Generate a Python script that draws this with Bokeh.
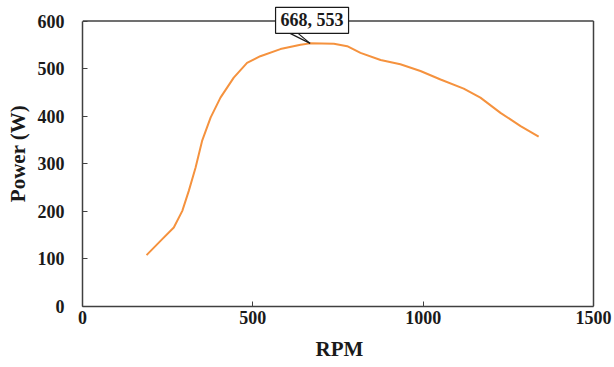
from bokeh.plotting import figure
from bokeh.models import Range1d, FixedTicker, Label
from bokeh.embed import file_html
from bokeh.resources import INLINE

rpm = [188, 229, 268, 293, 312, 332, 351, 376, 405, 444, 483, 522, 581, 640,
       668, 738, 777, 816, 875, 933, 992, 1051, 1119, 1168, 1227, 1286, 1339]
power = [108, 138, 166, 201, 243, 292, 348, 397, 439, 481, 512, 526, 541, 550,
         553, 552, 547, 533, 518, 509, 495, 477, 458, 439, 407, 379, 357]
peak_rpm = 668
peak_power = 553
x_ticks = [0, 500, 1000, 1500]
y_ticks = [0, 100, 200, 300, 400, 500, 600]

FONT = "Liberation Serif"

W, H = 614, 367
LEFT, RIGHT, TOP, BOTTOM = 82, 18, 0, 61
plot_w_px = 511.0   # pixels spanned by 0..1500
plot_h_px = 285.5   # pixels spanned by 0..600
x_max = x_ticks[-1]
y_max = y_ticks[-1]
x_end = x_max * (W - LEFT - RIGHT) / plot_w_px
y_end = y_max * (H - TOP - BOTTOM) / plot_h_px

p = figure(width=W, height=H, output_backend="svg", toolbar_location=None,
           x_range=Range1d(0, x_end), y_range=Range1d(0, y_end),
           min_border_left=LEFT, min_border_right=RIGHT, min_border_top=TOP,
           min_border_bottom=BOTTOM)

p.line(rpm, power, line_color="#F5923E", line_width=2)

p.xgrid.visible = False
p.ygrid.visible = False
p.outline_line_color = None

frame_col = "#404040"
# top and right borders of the chart box
p.segment(x0=[0, x_max], y0=[y_max, 0], x1=[x_max, x_max], y1=[y_max, y_max],
          line_color=frame_col, line_width=1.5)

for ax in (p.xaxis[0], p.yaxis[0]):
    ax.axis_line_color = frame_col
    ax.axis_line_width = 1.5
    ax.major_tick_in = 5
    ax.major_tick_out = 0
    ax.minor_tick_line_color = None
    ax.major_tick_line_color = frame_col
    ax.major_label_text_font = FONT
    ax.major_label_text_font_style = "bold"
    ax.major_label_text_font_size = "18px"
    ax.major_label_text_color = "#1a1a1a"
    ax.axis_label_text_font = FONT
    ax.axis_label_text_font_style = "bold"
    ax.axis_label_text_font_size = "21px"
    ax.axis_label_text_color = "#1a1a1a"

p.xaxis.bounds = (0, x_max)
p.yaxis.bounds = (0, y_max)
p.xaxis.ticker = FixedTicker(ticks=x_ticks)
p.yaxis.ticker = FixedTicker(ticks=y_ticks)
p.xaxis.axis_label = "RPM"
p.yaxis.axis_label = "Power (W)"
p.xaxis.major_label_standoff = 4
p.xaxis.axis_label_standoff = 10
p.yaxis.major_label_standoff = 18
p.yaxis.axis_label_standoff = 5

# callout tail (screen offsets converted to data units)
px_x = plot_w_px / x_max
px_y = plot_h_px / y_max
tail_xs = [[peak_rpm - 20 / px_x, peak_rpm], [peak_rpm - 12 / px_x, peak_rpm]]
tail_ys = [[peak_power + 10 / px_y, peak_power], [peak_power + 10 / px_y, peak_power]]
p.multi_line(tail_xs, tail_ys, line_color="#1a1a1a", line_width=1.2)

lab = Label(x=peak_rpm, y=peak_power, x_offset=2, y_offset=23,
            text=f"{peak_rpm}, {peak_power}", text_align="center",
            text_baseline="middle", text_font=FONT, text_font_style="bold",
            text_font_size="18px", text_color="#1a1a1a",
            background_fill_color="white", border_line_color="#1a1a1a",
            border_line_width=1.2, padding=dict(left=5, right=5, top=3, bottom=3))
p.add_layout(lab)

open("out.html", "w").write(file_html(p, INLINE))
